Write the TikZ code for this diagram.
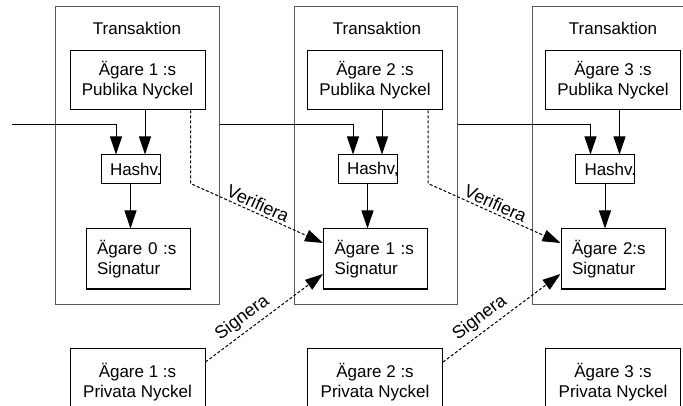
\documentclass[tikz,border=0pt]{standalone}
\usepackage{fontspec}
\setmainfont{Liberation Sans}
\usetikzlibrary{arrows.meta,calc}
\begin{document}
\begin{tikzpicture}[x=1pt,y=-1pt,
  every node/.style={font=\fontsize{17}{20}\selectfont},
  txbox/.style={draw=black!65, line width=1pt, inner sep=0pt, minimum height=297pt},
  keybox/.style={draw, line width=1pt, inner sep=0pt, minimum width=135pt, minimum height=59pt, align=center},
  privbox/.style={draw, line width=1pt, inner sep=0pt, minimum width=135pt, minimum height=67pt, align=center, anchor=north},
  hashbox/.style={draw, line width=1pt, inner sep=0pt, minimum width=59pt, minimum height=29pt},
  sigbox/.style={draw, line width=1pt, inner xsep=11pt, inner ysep=0pt, text width=82pt, minimum height=60pt, align=left},
  title/.style={anchor=base},
  flow/.style={line width=1pt, -{Triangle[length=18pt,width=12pt]}},
  dflow/.style={line width=1pt, dash pattern=on 3pt off 2pt, -{Triangle[length=18pt,width=12pt]}},
  lab/.style={font=\fontsize{18}{21}\selectfont, inner sep=2.5pt}]

\useasboundingbox (0,0) rectangle (683,406);
\clip (0,0) rectangle (683,406);

% transaction frames
\node[txbox, minimum width=164pt] (tx1) at (137,155.5) {};
\node[txbox, minimum width=163pt] (tx2) at (375.5,155.5) {};
\node[txbox, minimum width=168pt] (tx3) at (616,155.5) {};
\node[title] (t1) at (137,35) {Transaktion};
\node[title] (t2) at (377,35) {Transaktion};
\node[title] (t3) at (613,35) {Transaktion};

% public keys
\node[keybox] (pk1) at (137.5,80.5) {Ägare 1 :s\\Publika Nyckel};
\node[keybox] (pk2) at (375,80.5) {Ägare 2 :s\\Publika Nyckel};
\node[keybox] (pk3) at (613,80.5) {Ägare 3 :s\\Publika Nyckel};

% hash boxes
\node[hashbox] (h1) at (130.5,169.5) {\makebox[59pt][l]{\hspace{9pt}Hashv.}};
\node[hashbox] (h2) at (367.5,169.5) {\makebox[59pt][l]{\hspace{9pt}Hashv,}};
\node[hashbox] (h3) at (605,169.5) {\makebox[59pt][l]{\hspace{9pt}Hashv.}};

% signatures
\node[sigbox] (s1) at (138,259) {Ägare 0 :s\\Signatur};
\node[sigbox] (s2) at (375.5,259) {Ägare 1 :s\\Signatur};
\node[sigbox] (s3) at (613,259) {Ägare 2:s\\Signatur};

% private keys
\node[privbox] (pr1) at (137.5,348) {Ägare 1 :s\\Privata Nyckel};
\node[privbox] (pr2) at (375,348) {Ägare 2 :s\\Privata Nyckel};
\node[privbox] (pr3) at (613,348) {Ägare 3 :s\\Privata Nyckel};

% arrow entry points on the hash boxes
\foreach \i in {1,2,3}{
  \coordinate (j\i) at ($(h\i.north)+(-14.5,0)$);
  \coordinate (k\i) at ($(h\i.north)+(14.5,0)$);
}
\coordinate (in0) at (12,125);

% previous transaction into the hash
\draw[flow] (in0) -| (j1);
\draw[flow] (tx1.east |- in0) -| (j2);
\draw[flow] (tx2.east |- in0) -| (j3);

% public key into the hash, hash into the signature
\foreach \i in {1,2,3}{
  \draw[flow] (k\i |- pk\i.south) -- (k\i);
  \draw[flow] (h\i.south) -- (h\i.south |- s\i.north);
}

% verification and signing
\draw[dflow] ($(pk1.south east)+(-15,0)$) -- ++(0,73)
  -- node[lab, above, sloped, pos=0.48] {Verifiera} ($(s2.west)+(0,-16)$);
\draw[dflow] ($(pk2.south east)+(-15,0)$) -- ++(0,73)
  -- node[lab, above, sloped, pos=0.48] {Verifiera} ($(s3.west)+(0,-16)$);
\draw[dflow] ($(pr1.north east)+(0,14)$)
  -- node[lab, above, sloped, pos=0.38, inner sep=4pt] {Signera} ($(s2.west)+(0,15)$);
\draw[dflow] ($(pr2.north east)+(0,14)$)
  -- node[lab, above, sloped, pos=0.38, inner sep=4pt] {Signera} ($(s3.west)+(0,15)$);
\end{tikzpicture}
\end{document}
